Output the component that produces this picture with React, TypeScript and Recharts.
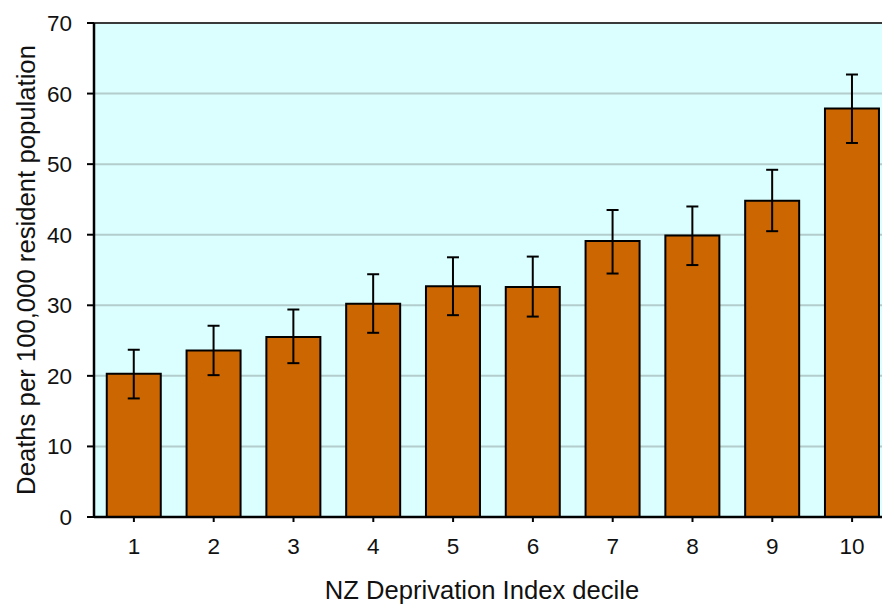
import React from 'react'
import {
  BarChart,
  Bar,
  XAxis,
  YAxis,
  CartesianGrid,
  ErrorBar,
  ReferenceLine,
} from 'recharts'

// NZ Deprivation Index decile
const deciles = ['1', '2', '3', '4', '5', '6', '7', '8', '9', '10']
// deaths per 100,000 resident population
const rates = [20.3, 23.6, 25.5, 30.2, 32.7, 32.6, 39.1, 39.9, 44.8, 57.9]
// 95% confidence limits
const lowerCI = [16.8, 20.1, 21.8, 26.1, 28.6, 28.4, 34.5, 35.7, 40.5, 53.0]
const upperCI = [23.7, 27.1, 29.4, 34.4, 36.8, 36.9, 43.5, 44.0, 49.2, 62.7]
const yTicks = [0, 10, 20, 30, 40, 50, 60, 70]

const data = deciles.map((d, i) => ({
  decile: d,
  rate: rates[i],
  ci: [rates[i] - lowerCI[i], upperCI[i] - rates[i]],
}))

const font = '"Liberation Sans", Arial, Helvetica, sans-serif'

export default function App() {
  return (
    <div
      style={{
        position: 'absolute',
        left: 0,
        top: 0,
        width: 882,
        height: 606,
        overflow: 'hidden',
        background: '#fff',
      }}
    >
      <BarChart
        width={892}
        height={606}
        data={data}
        margin={{ top: 23, right: 0, bottom: 0, left: 0 }}
        barCategoryGap="16%"
        style={{ fontFamily: font }}
      >
        <CartesianGrid
          vertical={false}
          fill="#dbffff"
          stroke="#b3cccc"
          strokeWidth={2}
        />
        <ReferenceLine y={70} stroke="#3a3a3a" strokeWidth={2} />
        <XAxis
          dataKey="decile"
          height={89}
          tickSize={5}
          tickMargin={16}
          axisLine={{ stroke: '#000', strokeWidth: 2.5 }}
          tickLine={{ stroke: '#000', strokeWidth: 2 }}
          tick={{ fill: '#111', fontSize: 22.5, fontFamily: font }}
          label={{
            value: 'NZ Deprivation Index decile',
            position: 'insideBottom',
            offset: 7,
            dx: -11,
            style: { fontSize: 25.6, fill: '#111', fontFamily: font },
          }}
        />
        <YAxis
          width={94}
          domain={[0, 70]}
          ticks={yTicks}
          interval={0}
          tickSize={7}
          tickMargin={15}
          axisLine={{ stroke: '#000', strokeWidth: 2.5 }}
          tickLine={{ stroke: '#000', strokeWidth: 2 }}
          tick={{ fill: '#111', fontSize: 22.5, fontFamily: font }}
          label={{
            value: 'Deaths per 100,000 resident population',
            angle: -90,
            position: 'insideLeft',
            offset: 26,
            style: {
              textAnchor: 'middle',
              fontSize: 25.7,
              fill: '#111',
              fontFamily: font,
            },
          }}
        />
        <Bar
          dataKey="rate"
          fill="#cc6600"
          stroke="#000"
          strokeWidth={2}
          isAnimationActive={false}
        >
          <ErrorBar
            dataKey="ci"
            width={6}
            stroke="#000"
            strokeWidth={2}
            isAnimationActive={false}
          />
        </Bar>
      </BarChart>
    </div>
  )
}
